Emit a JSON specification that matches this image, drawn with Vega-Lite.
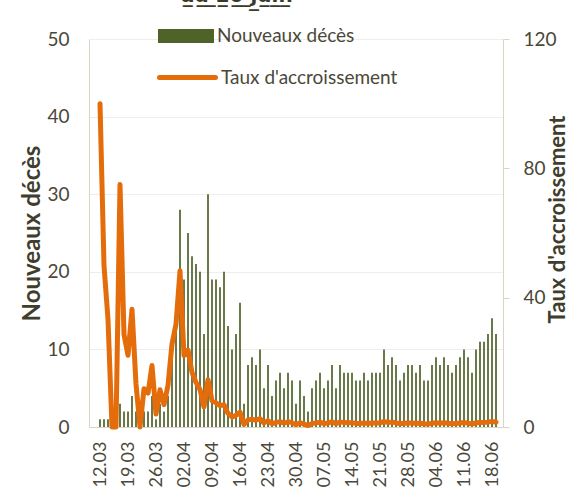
{
"$schema": "https://vega.github.io/schema/vega-lite/v6.json",
"width": 414, "height": 388,
"autosize": {"type": "none"},
"padding": {"left": 89, "top": 39, "right": 65, "bottom": 70},
"background": "white",
"config": {"view": {"stroke": null}, "font": "Lato"},
"title": {"text": "a̲u̲ ̲2̲0̲ ̲j̲u̲i̲n̲", "anchor": "start", "frame": "group", "dx": 92, "offset": 6, "dy": 20, "baseline": "alphabetic", "fontSize": 20, "fontWeight": "bold", "color": "#3A3A2A", "font": "DejaVu Sans"},
"data": {"format": {"parse": {"date": "date:'%Y-%m-%d'"}}, "values": [
{"date":"2020-03-12","deces":1,"taux":100},
{"date":"2020-03-13","deces":1,"taux":50},
{"date":"2020-03-14","deces":1,"taux":33.3},
{"date":"2020-03-15","deces":0,"taux":0},
{"date":"2020-03-16","deces":0,"taux":0},
{"date":"2020-03-17","deces":3,"taux":75},
{"date":"2020-03-18","deces":2,"taux":28.6},
{"date":"2020-03-19","deces":2,"taux":22.2},
{"date":"2020-03-20","deces":4,"taux":36.4},
{"date":"2020-03-21","deces":2,"taux":13.3},
{"date":"2020-03-22","deces":0,"taux":0},
{"date":"2020-03-23","deces":2,"taux":11.8},
{"date":"2020-03-24","deces":2,"taux":10.5},
{"date":"2020-03-25","deces":4,"taux":19},
{"date":"2020-03-26","deces":1,"taux":4},
{"date":"2020-03-27","deces":3,"taux":11.5},
{"date":"2020-03-28","deces":2,"taux":6.9},
{"date":"2020-03-29","deces":4,"taux":12.9},
{"date":"2020-03-30","deces":9,"taux":25.7},
{"date":"2020-03-31","deces":14,"taux":31.8},
{"date":"2020-04-01","deces":28,"taux":48.3},
{"date":"2020-04-02","deces":19,"taux":22.1},
{"date":"2020-04-03","deces":25,"taux":23.8},
{"date":"2020-04-04","deces":22,"taux":16.9},
{"date":"2020-04-05","deces":21,"taux":13.8},
{"date":"2020-04-06","deces":20,"taux":11.6},
{"date":"2020-04-07","deces":12,"taux":6.2},
{"date":"2020-04-08","deces":30,"taux":14.6},
{"date":"2020-04-09","deces":19,"taux":8.1},
{"date":"2020-04-10","deces":19,"taux":7.5},
{"date":"2020-04-11","deces":18,"taux":6.6},
{"date":"2020-04-12","deces":20,"taux":6.9},
{"date":"2020-04-13","deces":13,"taux":4.2},
{"date":"2020-04-14","deces":10,"taux":3.1},
{"date":"2020-04-15","deces":12,"taux":3.6},
{"date":"2020-04-16","deces":16,"taux":4.6},
{"date":"2020-04-17","deces":3,"taux":0.8},
{"date":"2020-04-18","deces":8,"taux":2.2},
{"date":"2020-04-19","deces":9,"taux":2.4},
{"date":"2020-04-20","deces":8,"taux":2.1},
{"date":"2020-04-21","deces":10,"taux":2.6},
{"date":"2020-04-22","deces":5,"taux":1.25},
{"date":"2020-04-23","deces":8,"taux":1.98},
{"date":"2020-04-24","deces":4,"taux":0.97},
{"date":"2020-04-25","deces":6,"taux":1.44},
{"date":"2020-04-26","deces":7,"taux":1.65},
{"date":"2020-04-27","deces":5,"taux":1.16},
{"date":"2020-04-28","deces":7,"taux":1.61},
{"date":"2020-04-29","deces":6,"taux":1.36},
{"date":"2020-04-30","deces":3,"taux":0.67},
{"date":"2020-05-01","deces":6,"taux":1.33},
{"date":"2020-05-02","deces":4,"taux":0.88},
{"date":"2020-05-03","deces":2,"taux":0.43},
{"date":"2020-05-04","deces":5,"taux":1.08},
{"date":"2020-05-05","deces":6,"taux":1.28},
{"date":"2020-05-06","deces":7,"taux":1.48},
{"date":"2020-05-07","deces":5,"taux":1.04},
{"date":"2020-05-08","deces":6,"taux":1.23},
{"date":"2020-05-09","deces":8,"taux":1.63},
{"date":"2020-05-10","deces":5,"taux":1.0},
{"date":"2020-05-11","deces":8,"taux":1.58},
{"date":"2020-05-12","deces":7,"taux":1.36},
{"date":"2020-05-13","deces":7,"taux":1.35},
{"date":"2020-05-14","deces":7,"taux":1.33},
{"date":"2020-05-15","deces":6,"taux":1.12},
{"date":"2020-05-16","deces":6,"taux":1.11},
{"date":"2020-05-17","deces":7,"taux":1.28},
{"date":"2020-05-18","deces":6,"taux":1.08},
{"date":"2020-05-19","deces":7,"taux":1.25},
{"date":"2020-05-20","deces":7,"taux":1.24},
{"date":"2020-05-21","deces":7,"taux":1.22},
{"date":"2020-05-22","deces":10,"taux":1.72},
{"date":"2020-05-23","deces":8,"taux":1.36},
{"date":"2020-05-24","deces":9,"taux":1.51},
{"date":"2020-05-25","deces":8,"taux":1.32},
{"date":"2020-05-26","deces":6,"taux":0.98},
{"date":"2020-05-27","deces":7,"taux":1.13},
{"date":"2020-05-28","deces":8,"taux":1.27},
{"date":"2020-05-29","deces":8,"taux":1.26},
{"date":"2020-05-30","deces":7,"taux":1.09},
{"date":"2020-05-31","deces":8,"taux":1.23},
{"date":"2020-06-01","deces":6,"taux":0.91},
{"date":"2020-06-02","deces":6,"taux":0.9},
{"date":"2020-06-03","deces":8,"taux":1.19},
{"date":"2020-06-04","deces":9,"taux":1.33},
{"date":"2020-06-05","deces":8,"taux":1.16},
{"date":"2020-06-06","deces":9,"taux":1.29},
{"date":"2020-06-07","deces":8,"taux":1.13},
{"date":"2020-06-08","deces":7,"taux":0.98},
{"date":"2020-06-09","deces":8,"taux":1.11},
{"date":"2020-06-10","deces":9,"taux":1.24},
{"date":"2020-06-11","deces":10,"taux":1.36},
{"date":"2020-06-12","deces":9,"taux":1.2},
{"date":"2020-06-13","deces":7,"taux":0.93},
{"date":"2020-06-14","deces":10,"taux":1.31},
{"date":"2020-06-15","deces":11,"taux":1.42},
{"date":"2020-06-16","deces":11,"taux":1.4},
{"date":"2020-06-17","deces":12,"taux":1.51},
{"date":"2020-06-18","deces":14,"taux":1.73},
{"date":"2020-06-19","deces":12,"taux":1.46}
]},
"encoding": {
  "x": {"field": "date", "type": "temporal",
    "scale": {"domain": [{"year":2020,"month":"mar","date":10,"hours":12},{"year":2020,"month":"jun","date":19,"hours":12}], "nice": false},
    "axis": {"title": null, "format": "%d.%m", "labelAngle": -90, "labelFontSize": 18, "labelColor": "#4A4838", "labelFont": "Lato",
      "ticks": false, "tickSize": 0, "labelPadding": 14, "grid": false, "domainColor": "#D9D5C4", "domainWidth": 1,
      "values": [
        {"year":2020,"month":"mar","date":12},{"year":2020,"month":"mar","date":19},{"year":2020,"month":"mar","date":26},
        {"year":2020,"month":"apr","date":2},{"year":2020,"month":"apr","date":9},{"year":2020,"month":"apr","date":16},
        {"year":2020,"month":"apr","date":23},{"year":2020,"month":"apr","date":30},{"year":2020,"month":"may","date":7},
        {"year":2020,"month":"may","date":14},{"year":2020,"month":"may","date":21},{"year":2020,"month":"may","date":28},
        {"year":2020,"month":"jun","date":4},{"year":2020,"month":"jun","date":11},{"year":2020,"month":"jun","date":18}
      ]}}
},
"layer": [
  {"mark": {"type": "bar", "size": 1.7},
   "encoding": {
     "y": {"field": "deces", "type": "quantitative", "scale": {"domain": [0, 50], "nice": false},
       "axis": {"title": "Nouveaux décès", "values": [0,10,20,30,40,50], "grid": true, "gridColor": "#EEEEEE", "domainColor": "#D9D5C4",
         "ticks": false, "tickSize": 0, "labelPadding": 20, "labelFontSize": 19, "labelColor": "#4A4838", "labelFont": "Lato",
         "titleFontSize": 24, "titleFontWeight": "bold", "titleColor": "#3F3E2E", "titleFont": "Lato",
         "titleAngle": 270, "titleX": -57, "titleY": 194, "titleBaseline": "middle", "titleAlign": "center"}},
     "color": {"datum": "Nouveaux décès", "type": "nominal", "scale": {"range": ["#4F6228"]},
       "legend": {"orient": "none", "legendX": 69, "legendY": -31, "title": null, "padding": 0, "labelLimit": 400,
         "symbolType": "M-1,-0.25L1,-0.25L1,0.25L-1,0.25Z", "symbolSize": 3136, "symbolStrokeWidth": 0, "symbolOpacity": 1,
         "labelFontSize": 19, "labelColor": "#4A4838", "labelFont": "Lato", "labelOffset": 3}}
   }},
  {"mark": {"type": "line", "strokeWidth": 5, "strokeJoin": "round", "strokeCap": "round"},
   "encoding": {
     "y": {"field": "taux", "type": "quantitative", "scale": {"domain": [0, 120], "nice": false},
       "axis": {"orient": "right", "title": "Taux d'accroissement", "values": [0,40,80,120], "grid": false, "domainColor": "#D9D5C4",
         "tickColor": "#D9D5C4", "tickSize": 6, "labelPadding": 14, "labelFontSize": 19, "labelColor": "#4A4838", "labelFont": "Lato",
         "titleFontSize": 22, "titleFontWeight": "bold", "titleColor": "#3F3E2E", "titleFont": "Lato",
         "titleAngle": 270, "titleX": 54, "titleY": 180, "titleBaseline": "middle", "titleAlign": "center"}},
     "stroke": {"datum": "Taux d'accroissement", "type": "nominal", "scale": {"range": ["#E46C0A"]},
       "legend": {"orient": "none", "legendX": 68, "legendY": 8, "title": null, "padding": 0, "labelLimit": 400,
         "symbolType": "stroke", "symbolSize": 3136, "symbolStrokeWidth": 5,
         "labelFontSize": 19, "labelColor": "#4A4838", "labelFont": "Lato", "labelOffset": 3,
         "encode": {"symbols": {"update": {"strokeCap": {"value": "round"}}}}}}
   }}
],
"resolve": {"scale": {"y": "independent"}}
}
